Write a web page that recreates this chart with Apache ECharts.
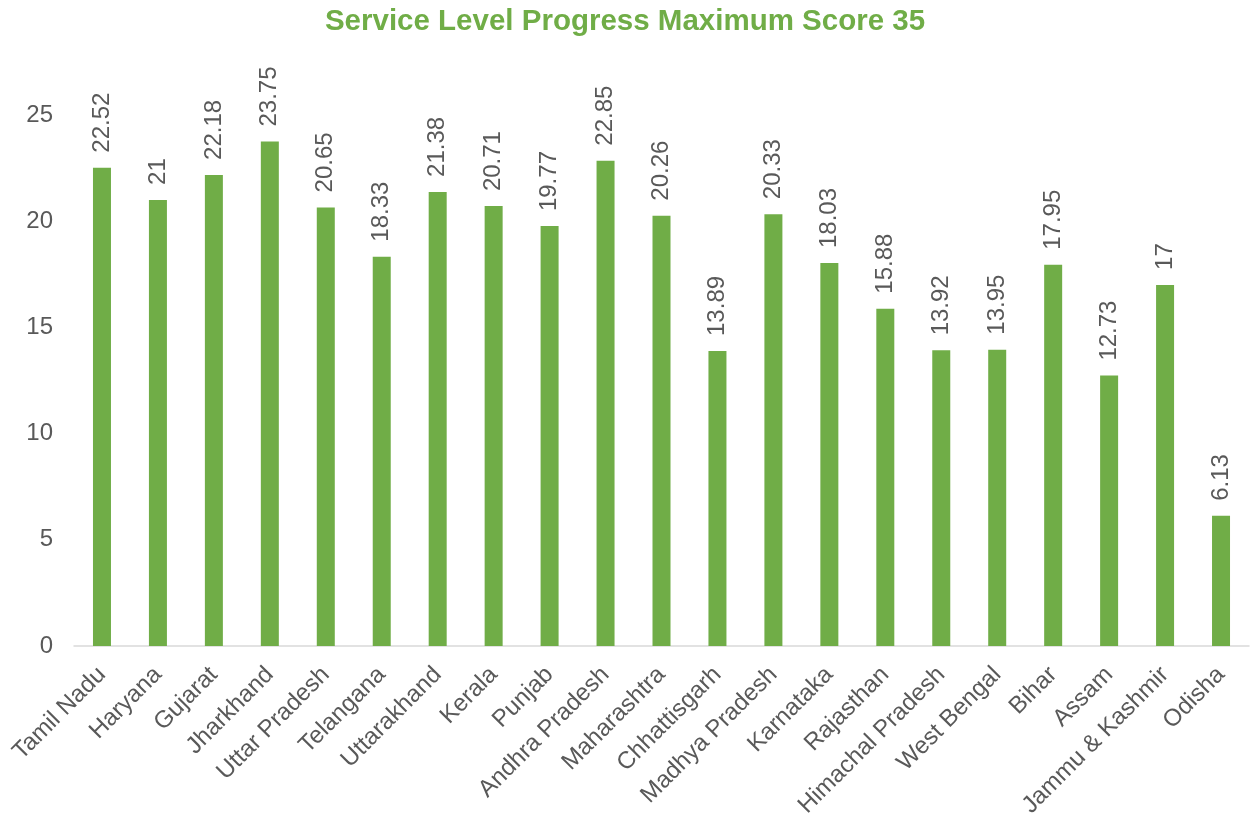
<!DOCTYPE html>
<html>
<head>
<meta charset="utf-8">
<script src="https://cdn.jsdelivr.net/npm/echarts@6/dist/echarts.min.js"></script>
<style>
  html, body { margin: 0; padding: 0; background: #fff; }
  #chart { width: 1250px; height: 816px; }
</style>
</head>
<body>
<div id="chart"></div>
<script>
// states in chart order
var states = ['Tamil Nadu', 'Haryana', 'Gujarat', 'Jharkhand', 'Uttar Pradesh', 'Telangana',
  'Uttarakhand', 'Kerala', 'Punjab', 'Andhra Pradesh', 'Maharashtra', 'Chhattisgarh',
  'Madhya Pradesh', 'Karnataka', 'Rajasthan', 'Himachal Pradesh', 'West Bengal', 'Bihar',
  'Assam', 'Jammu & Kashmir', 'Odisha'];
var scores = [22.52, 21, 22.18, 23.75, 20.65, 18.33, 21.38, 20.71, 19.77, 22.85, 20.26, 13.89,
  20.33, 18.03, 15.88, 13.92, 13.95, 17.95, 12.73, 17, 6.13];

var green = '#70AD47';
var grey = '#595959';
var font = 'Liberation Sans, Arial, sans-serif';

var myChart = echarts.init(document.getElementById('chart'));
myChart.setOption({
  animation: false,
  title: {
    text: 'Service Level Progress Maximum Score 35',
    left: 'center',
    top: 2,
    textStyle: { color: green, fontSize: 29.5, fontWeight: 'bold', fontFamily: font }
  },
  grid: { left: 74, right: 1, top: 115, bottom: 170, outerBoundsMode: 'none', containLabel: false },
  xAxis: {
    type: 'category',
    data: states,
    axisLine: { lineStyle: { color: '#d9d9d9', width: 1.5 } },
    axisTick: { show: false },
    axisLabel: {
      interval: 0,
      rotate: 45,
      margin: 25,
      color: grey,
      fontSize: 24,
      fontFamily: font
    }
  },
  yAxis: {
    type: 'value',
    min: 0,
    max: 25,
    interval: 5,
    splitLine: { show: false },
    axisLine: { show: false },
    axisTick: { show: false },
    axisLabel: { color: grey, fontSize: 24, fontFamily: font, margin: 21 }
  },
  series: [{
    type: 'bar',
    data: scores,
    barWidth: 18,
    itemStyle: { color: green },
    label: {
      show: true,
      position: 'top',
      rotate: 90,
      align: 'left',
      verticalAlign: 'middle',
      distance: 15,
      color: grey,
      fontSize: 24,
      fontFamily: font
    }
  }]
});
</script>
</body>
</html>
